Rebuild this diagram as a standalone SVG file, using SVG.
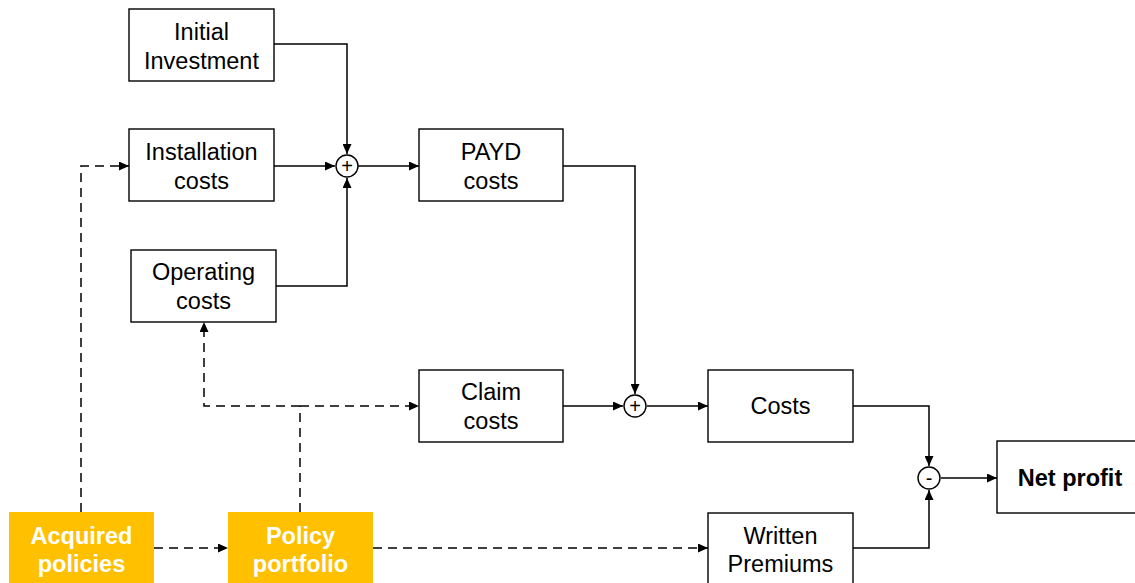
<svg xmlns="http://www.w3.org/2000/svg" width="1135" height="583" viewBox="0 0 1135 583">
<defs>
<marker id="ah" markerWidth="10" markerHeight="9" refX="10" refY="4.5" orient="auto" markerUnits="userSpaceOnUse">
<path d="M0,0 L10,4.5 L0,9 Z" fill="#000"/>
</marker>
<style>
.box{fill:#fff;stroke:#000;stroke-width:1.4}
.org{fill:#FFC000;stroke:none}
.t{font-family:"Liberation Sans",Arial,sans-serif;font-size:23.5px;fill:#000;text-anchor:middle}
.tw{font-family:"Liberation Sans",Arial,sans-serif;font-size:23.5px;font-weight:bold;fill:#fff;text-anchor:middle}
.tb{font-family:"Liberation Sans",Arial,sans-serif;font-size:23.5px;font-weight:bold;fill:#000;text-anchor:middle}
.ln{fill:none;stroke:#000;stroke-width:1.5}
.dl{fill:none;stroke:#000;stroke-width:1.5;stroke-dasharray:9,6}
.sum{fill:#fff;stroke:#000;stroke-width:1.4}
.op{font-family:"Liberation Sans",Arial,sans-serif;font-size:20px;fill:#000;text-anchor:middle}
</style>
</defs>
<g id="connectors">
<path class="ln" d="M274,44 H347 V154" marker-end="url(#ah)"/>
<path class="ln" d="M274,166 H335" marker-end="url(#ah)"/>
<path class="ln" d="M276,286 H347 V178" marker-end="url(#ah)"/>
<path class="ln" d="M358,166 H419" marker-end="url(#ah)"/>
<path class="ln" d="M563,166 H635 V394" marker-end="url(#ah)"/>
<path class="ln" d="M563,406 H623" marker-end="url(#ah)"/>
<path class="ln" d="M647,406 H708" marker-end="url(#ah)"/>
<path class="ln" d="M853,406 H929 V466" marker-end="url(#ah)"/>
<path class="ln" d="M853,548 H929 V490" marker-end="url(#ah)"/>
<path class="ln" d="M941,478 H997" marker-end="url(#ah)"/>
<path class="dl" d="M81,512 V166 H129" marker-end="url(#ah)"/>
<path class="dl" d="M154,548 H228" marker-end="url(#ah)"/>
<path class="dl" d="M373,548 H708" marker-end="url(#ah)"/>
<path class="dl" d="M300,512 V406"/>
<path class="dl" d="M300,406 H204 V322" marker-end="url(#ah)"/>
<path class="dl" d="M300,406 H419" marker-end="url(#ah)"/>
</g>
<g id="sum1"><circle class="sum" cx="347" cy="166" r="11"/><text class="op" x="347" y="173">+</text></g>
<g id="sum2"><circle class="sum" cx="635" cy="406" r="11"/><text class="op" x="635" y="413">+</text></g>
<g id="diff"><circle class="sum" cx="929" cy="478" r="11"/><text class="op" x="929" y="485">-</text></g>
<g id="initial-investment"><rect class="box" x="129" y="9" width="145" height="72"/><text class="t" x="201.5" y="40">Initial</text><text class="t" x="201.5" y="69">Investment</text></g>
<g id="installation-costs"><rect class="box" x="129" y="129" width="145" height="72"/><text class="t" x="201.5" y="160">Installation</text><text class="t" x="201.5" y="189">costs</text></g>
<g id="operating-costs"><rect class="box" x="131" y="250" width="145" height="72"/><text class="t" x="203.5" y="280">Operating</text><text class="t" x="203.5" y="309">costs</text></g>
<g id="payd-costs"><rect class="box" x="419" y="129" width="144" height="72"/><text class="t" x="491" y="160">PAYD</text><text class="t" x="491" y="189">costs</text></g>
<g id="claim-costs"><rect class="box" x="419" y="370" width="144" height="72"/><text class="t" x="491" y="400">Claim</text><text class="t" x="491" y="429">costs</text></g>
<g id="costs"><rect class="box" x="708" y="370" width="145" height="72"/><text class="t" x="780.5" y="414">Costs</text></g>
<g id="net-profit"><rect class="box" x="997" y="441" width="145" height="72"/><text class="tb" x="1070" y="486">Net profit</text></g>
<g id="written-premiums"><rect class="box" x="708" y="513" width="145" height="80"/><text class="t" x="780.5" y="544">Written</text><text class="t" x="780.5" y="572">Premiums</text></g>
<g id="acquired-policies"><rect class="org" x="9" y="512" width="145" height="75"/><text class="tw" x="81.5" y="544">Acquired</text><text class="tw" x="81.5" y="572">policies</text></g>
<g id="policy-portfolio"><rect class="org" x="228" y="512" width="145" height="75"/><text class="tw" x="300.5" y="544">Policy</text><text class="tw" x="300.5" y="572">portfolio</text></g>
</svg>
